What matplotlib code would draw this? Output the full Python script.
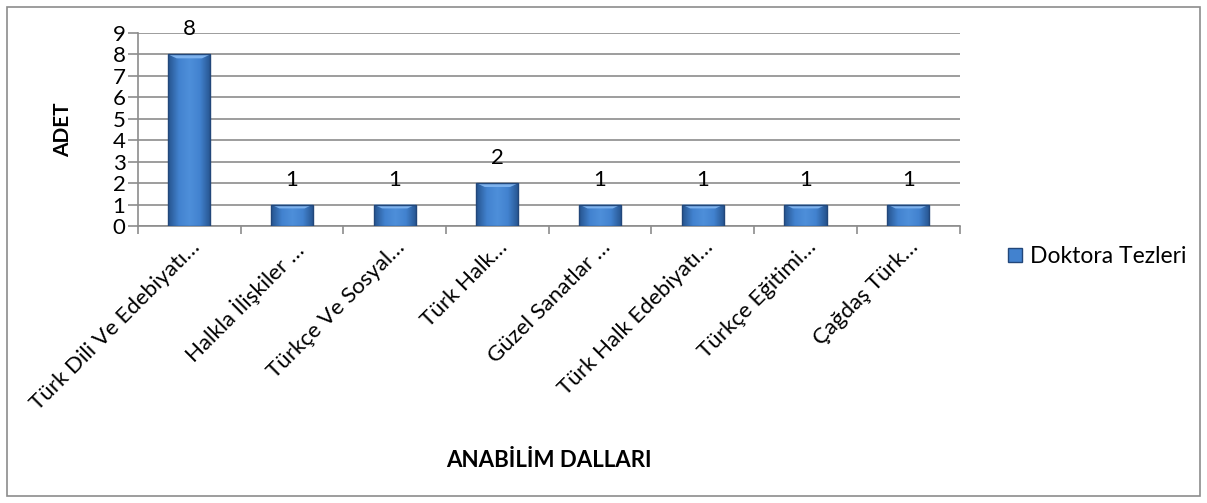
import numpy as np
import matplotlib.pyplot as plt
from matplotlib.patches import Rectangle
from matplotlib.colors import LinearSegmentedColormap

# Data
categories = ['Türk Dili Ve Edebiyatı…', 'Halkla İlişkiler …', 'Türkçe Ve Sosyal…',
              'Türk Halk…', 'Güzel Sanatlar …', 'Türk Halk Edebiyatı…',
              'Türkçe Eğitimi…', 'Çağdaş Türk…']
values = [8, 1, 1, 2, 1, 1, 1, 1]
series_name = 'Doktora Tezleri'
y_ticks = list(range(0, 10))

plt.rcParams['font.family'] = ['Lato', 'DejaVu Sans']

fig = plt.figure(figsize=(12.07, 5.03), dpi=100)
ax = fig.add_axes([0.1143, 0.5507, 0.6807, 0.3836])

# Outer chart border
fig.patches.append(Rectangle((0.006, 0.014), 0.988, 0.972, transform=fig.transFigure,
                             fill=False, edgecolor='#8c8c8c', linewidth=1.2))

x = range(len(categories))
bars = ax.bar(x, values, width=0.41, color='none', edgecolor='#22477A',
              linewidth=1.0, zorder=4.5)

# horizontal gradient inside each bar (dark edges, lighter middle)
cmap = LinearSegmentedColormap.from_list('bar', ['#26548F', '#4282CF', '#4E8FDA', '#4282CF', '#26548F'])
grad = np.linspace(0, 1, 64).reshape(1, -1)
for b in bars:
    x0, w, h = b.get_x(), b.get_width(), b.get_height()
    im = ax.imshow(grad, cmap=cmap, aspect='auto', extent=(x0, x0 + w, 0, h),
                   zorder=3.5, interpolation='bicubic')
    im.set_clip_path(b)
    # top bevel highlight
    ax.fill([x0, x0 + w, x0 + w * 0.8, x0 + w * 0.2], [h, h, h - 0.18, h - 0.18],
            color='#7DB2EE', zorder=4, linewidth=0)

for b, v in zip(bars, values):
    ax.annotate(str(v), (b.get_x() + b.get_width() / 2, v), xytext=(0, 18),
                textcoords='offset points', ha='center', va='center', fontsize=16)

ax.set_xlim(-0.5, len(categories) - 0.5)
ax.set_ylim(0, 9)
ax.set_yticks(y_ticks)
ax.yaxis.grid(True, color='#8c8c8c', linewidth=1.2, zorder=0)
ax.set_axisbelow(True)

ax.set_xticks([i - 0.5 for i in range(len(categories) + 1)], minor=False)
ax.set_xticklabels([])
ax.set_xticks(list(x), minor=True)
ax.set_xticklabels(categories, minor=True, rotation=45, ha='right', va='top',
                   rotation_mode='anchor', fontsize=16)
ax.tick_params(axis='x', which='minor', length=0, pad=8)
ax.tick_params(axis='x', which='major', length=6, color='#8c8c8c', width=1.2)
ax.tick_params(axis='y', length=7, color='#8c8c8c', width=1.2, labelsize=16, pad=2)

for s in ['top', 'right']:
    ax.spines[s].set_visible(False)
for s in ['left', 'bottom']:
    ax.spines[s].set_color('#8c8c8c')
    ax.spines[s].set_linewidth(1.2)

ax.set_ylabel('ADET', fontsize=15, fontweight='bold', labelpad=28)
fig.text(0.455, 0.085, 'ANABİLİM DALLARI', ha='center', va='center',
         fontsize=16, fontweight='bold')

legend_handle = Rectangle((0, 0), 1, 1, facecolor='#4282CF', edgecolor='#22477A', linewidth=1.0)
fig.legend(handles=[legend_handle], labels=[series_name], loc='center left',
           bbox_to_anchor=(0.818, 0.49), frameon=False, fontsize=16.5,
           handlelength=0.6, handleheight=0.6, handletextpad=0.35)

plt.savefig('out.png', dpi=100)
